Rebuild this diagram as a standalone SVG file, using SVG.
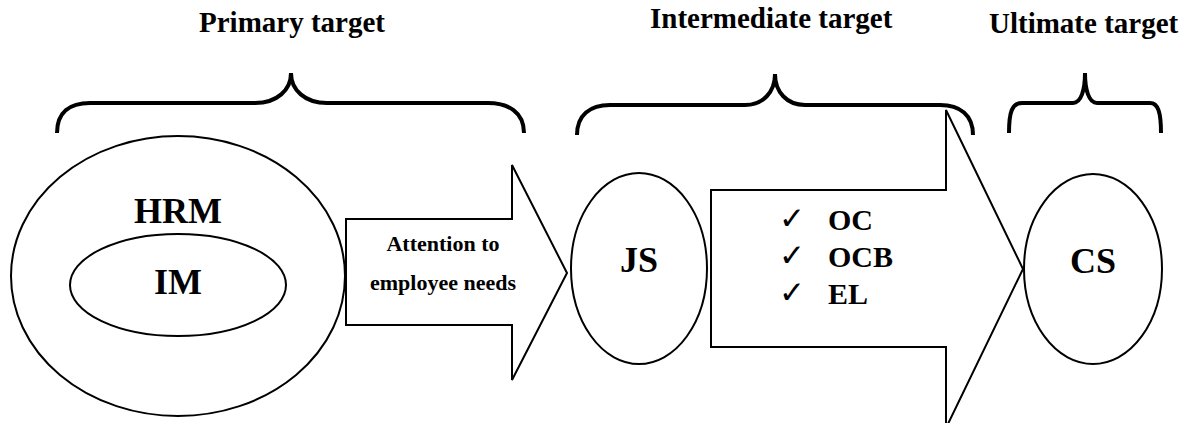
<svg xmlns="http://www.w3.org/2000/svg" width="1192" height="423" viewBox="0 0 1192 423">
<style>
  .t { font-family: "Liberation Serif", "Times New Roman", serif; font-weight: bold; fill: #000; }
  .title { font-size: 29px; }
  .big { font-size: 36px; text-anchor: middle; }
  .mid { font-size: 30px; }
  .small { font-size: 22px; text-anchor: middle; }
  .chk { font-family: "DejaVu Sans", sans-serif; font-size: 31px; fill: #000; }
  .shape { fill: #fff; stroke: #000; stroke-width: 2; }
  .brace { fill: none; stroke: #000; stroke-width: 4; stroke-linecap: butt; }
</style>
<rect width="1192" height="423" fill="#fff"/>
<g id="titles">
  <text class="t title" x="199" y="32">Primary target</text>
  <text class="t title" x="650" y="28">Intermediate target</text>
  <text class="t title" x="989" y="33">Ultimate target</text>
</g>
<g id="braces">
  <path class="brace" d="M57,133 C57,112 70,103 90,103 L255,103 C277,103 291,90 291,73 C291,90 305,103 327,103 L488,103 C508,103 524,112 524,133"/>
  <path class="brace" d="M577,135 C577,115 590,105 610,105 L745,105 C763,105 775,92 775,74 C775,92 787,105 805,105 L940,105 C960,105 973,115 973,135"/>
  <path class="brace" d="M1009,133 C1009,112 1012,103 1022,103 L1073,103 C1081,103 1085,90 1085,73 C1085,90 1089,103 1097,103 L1150,103 C1158,103 1161,112 1161,133"/>
</g>
<g id="connectors">
  <g id="arrow1">
    <polygon class="shape" points="346,219 512,219 512,165 567,273 512,380 512,325 346,325"/>
    <text class="t small" x="443" y="251">Attention to</text>
    <text class="t small" x="443" y="290">employee needs</text>
  </g>
  <g id="arrow2">
    <polygon class="shape" points="711,190 946,190 946,110 1023,269 946,428 946,347 711,347"/>
    <text class="chk" x="779" y="229">✓</text>
    <text class="chk" x="779" y="266">✓</text>
    <text class="chk" x="779" y="303">✓</text>
    <text class="t mid" x="828" y="230">OC</text>
    <text class="t mid" x="828" y="267">OCB</text>
    <text class="t mid" x="828" y="304">EL</text>
  </g>
</g>
<g id="hrm">
  <ellipse class="shape" cx="178" cy="276" rx="167" ry="140"/>
  <text class="t big" x="178" y="223">HRM</text>
</g>
<g id="im">
  <ellipse class="shape" cx="178" cy="285" rx="108" ry="51"/>
  <text class="t big" x="178" y="294">IM</text>
</g>
<g id="js">
  <ellipse class="shape" cx="639" cy="268.5" rx="68" ry="95.5"/>
  <text class="t big" x="639" y="272">JS</text>
</g>
<g id="cs">
  <ellipse class="shape" cx="1093" cy="269" rx="69" ry="95"/>
  <text class="t big" x="1093" y="273">CS</text>
</g>
</svg>
